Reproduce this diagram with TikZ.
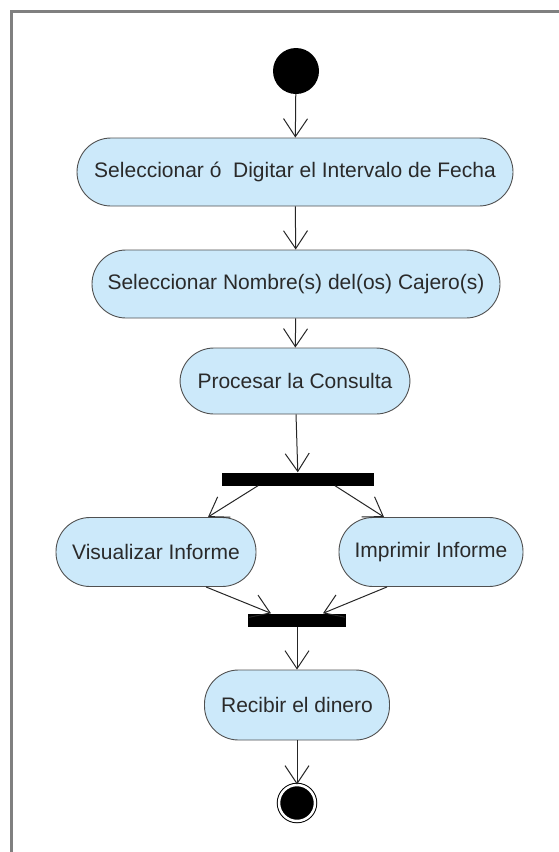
\documentclass[tikz,border=0pt]{standalone}
\usepackage{fontspec}
\setmainfont{Liberation Sans}
\usetikzlibrary{arrows.meta}
\definecolor{actfill}{HTML}{CCE9FA}
\definecolor{actline}{HTML}{505050}
\definecolor{frameline}{HTML}{808080}
\definecolor{txt}{HTML}{2A2A2A}
\begin{document}
\begin{tikzpicture}[x=1pt,y=-1pt,
  activity/.style={draw=actline,line width=0.9pt,fill=actfill,rounded corners=34pt,
    minimum height=68pt,inner xsep=10pt,font=\fontsize{21}{24}\selectfont,text=txt},
  bar/.style={fill=black,draw=none,minimum height=13pt,inner sep=0pt},
  flow/.style={line width=1pt,draw=black!85,-{Straight Barb[length=18pt,width=24pt,line width=1pt]}},
  startnode/.style={circle,fill=black,minimum size=46pt,inner sep=0pt},
  endnode/.style={circle,fill=black,minimum size=36pt,inner sep=0pt,
    double=white,draw=black,double distance=2.5pt,line width=1pt}]
\useasboundingbox (0,0) rectangle (559,852);
% frame
\draw[frameline,line width=3pt] (11,852) -- (11,11) -- (559,11);

\node[startnode] (start) at (296,71) {};
\node[activity,minimum width=436pt] (a1) at (295,172) {Seleccionar ó\ \ Digitar el Intervalo de Fecha};
\node[activity,minimum width=408pt] (a2) at (296,284) {Seleccionar Nombre(s) del(os) Cajero(s)};
\node[activity,minimum width=230pt,minimum height=66pt] (a3) at (295,381) {Procesar la Consulta};
\node[bar,minimum width=152pt] (fork) at (298,479) {};
\node[activity,minimum width=200pt,minimum height=69pt] (vis) at (156,552) {Visualizar Informe};
\node[activity,minimum width=184pt,minimum height=69pt] (imp) at (431,552) {Imprimir Informe};
\node[bar,minimum width=98pt] (join) at (297,620) {};
\node[activity,minimum width=185pt,minimum height=70pt] (rec) at (297,705) {Recibir el dinero};
\node[endnode] (fin) at (297,803) {};

\draw[flow] (start) -- (a1);
\draw[flow] (a1) -- (a2);
\draw[flow] (a2) -- (a3);
\draw[flow] (a3) -- (fork);
\draw[flow] ([xshift=-40pt]fork.south) -- ([xshift=52pt]vis.north);
\draw[flow] ([xshift=37pt]fork.south) -- ([xshift=-47pt]imp.north);
\draw[flow] ([xshift=50pt]vis.south) -- ([xshift=-26pt]join.north);
\draw[flow] ([xshift=-44pt]imp.south) -- ([xshift=26pt]join.north);
\draw[flow] (join) -- (rec);
\draw[flow] (rec) -- (fin);
\end{tikzpicture}
\end{document}
